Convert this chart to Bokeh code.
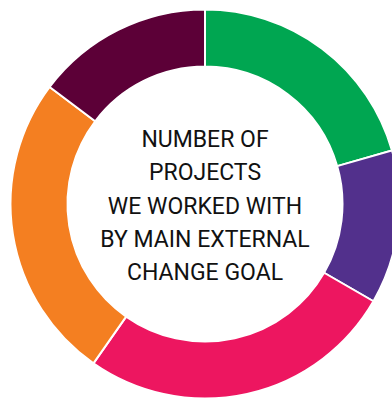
import numpy as np
from bokeh.plotting import figure
from bokeh.models import Range1d, ColumnDataSource
from bokeh.core.properties import value
from bokeh.embed import file_html
from bokeh.resources import INLINE

categories = ["Goal A", "Goal B", "Goal C", "Goal D", "Goal E"]
counts = [74, 46, 95, 92, 53]
colors = ["#00A651", "#52308C", "#ED1660", "#F47F21", "#5C0037"]
title_lines = ["NUMBER OF", "PROJECTS", "WE WORKED WITH", "BY MAIN EXTERNAL", "CHANGE GOAL"]

W, H = 392, 399
p = figure(width=W, height=H, output_backend="svg", toolbar_location=None,
           x_range=Range1d(0, W), y_range=Range1d(0, H), min_border=0,
           outline_line_color=None)
p.axis.visible = False
p.grid.visible = False
p.background_fill_color = "white"
p.border_fill_color = "white"

cx, cy = 204.5, H - 203.5
r_out, r_in = 194.5, 137.5

vals = np.array(counts, dtype=float)
fr = vals / vals.sum()
cum = np.concatenate([[0], np.cumsum(fr)])
start = np.pi / 2 - 2 * np.pi * cum[:-1]
end = np.pi / 2 - 2 * np.pi * cum[1:]
src = ColumnDataSource(dict(cat=categories, start=start, end=end, color=colors))
p.annular_wedge(x=cx, y=cy, inner_radius=r_in, outer_radius=r_out,
                start_angle="start", end_angle="end", direction="clock",
                fill_color="color", line_color="white", line_width=2, source=src)

ys = [H - (139 + 33.25 * i) for i in range(len(title_lines))]
p.text(x=[cx] * len(title_lines), y=ys, text=title_lines,
       text_font=value("Roboto"), text_font_size="23px",
       text_align="center", text_baseline="middle", text_color="#111111")

open("out.html", "w").write(file_html(p, INLINE))
